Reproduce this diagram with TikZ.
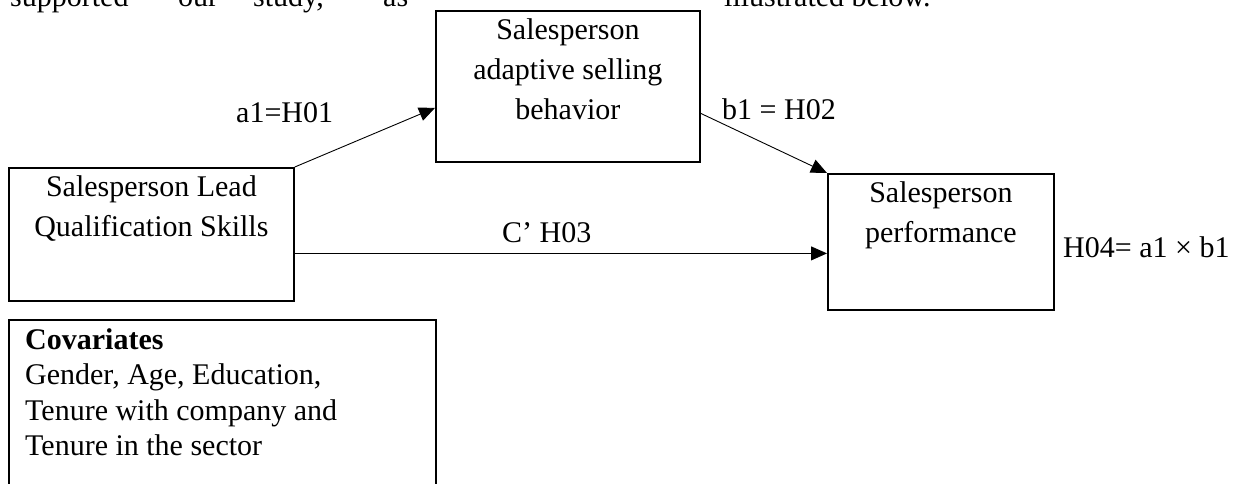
\documentclass[tikz,border=0pt]{standalone}
\usepackage{fontspec}
\setmainfont{Liberation Serif}
\usetikzlibrary{positioning,arrows.meta}

\begin{document}
\begin{tikzpicture}[
    x=1pt, y=-1pt,
    every node/.style={font=\fontsize{30}{40}\selectfont},
    box/.style={draw, line width=1.8pt, anchor=north west, inner sep=0pt},
    boxtext/.style={anchor=north, align=center, inner sep=8pt},
    word/.style={anchor=base west, inner sep=0pt},
    link/.style={line width=0.9pt, -{Triangle[length=16pt,width=14pt]}}
  ]
    \useasboundingbox (0,0) rectangle (1243,483);

    % Running text, cut at the top edge
    \node[word] (w1) at (10,6) {supported};
    \node[word] (w2) at (178,6) {our};
    \node[word] (w3) at (253,6) {study,};
    \node[word] (w4) at (383,6) {as};
    \node[word] (w5) at (724,6) {illustrated below.};

    % Boxes
    \node[box, minimum width=264, minimum height=151,
          label={[boxtext]north:Salesperson\\adaptive selling\\behavior}] (adapt) at (435,10) {};
    \node[box, minimum width=285, minimum height=133,
          label={[boxtext]north:Salesperson Lead\\Qualification Skills}] (lead) at (8,167) {};
    \node[box, minimum width=226, minimum height=136,
          label={[boxtext]north:Salesperson\\performance}] (perf) at (827,173) {};
    \node[box, minimum width=427, minimum height=180,
          label={[anchor=north west, align=left, inner xsep=17pt, inner ysep=9pt,
                  font=\fontsize{30}{35.5}\selectfont]north west:\textbf{Covariates}\\Gender, Age, Education,\\Tenure with company and\\Tenure in the sector}] (cov) at (8,319) {};

    % Paths
    \draw[link] (lead.north east) -- ([yshift=-21.5pt]adapt.west);
    \draw[link] ([yshift=-27pt]adapt.east) -- (perf.north west);
    \draw[link] ([yshift=-19pt]lead.east) -- ([yshift=-19pt]lead.east -| perf.west);

    % Path labels
    \node[word] (a1lbl) at (236,122) {a1=H01};
    \node[word] (b1lbl) at (722,119) {b1 = H02};
    \node[word] (clbl) at (502,242) {C’ H03};
    \node[word] (h04lbl) at (1063,257) {H04= a1 × b1};
\end{tikzpicture}
\end{document}
